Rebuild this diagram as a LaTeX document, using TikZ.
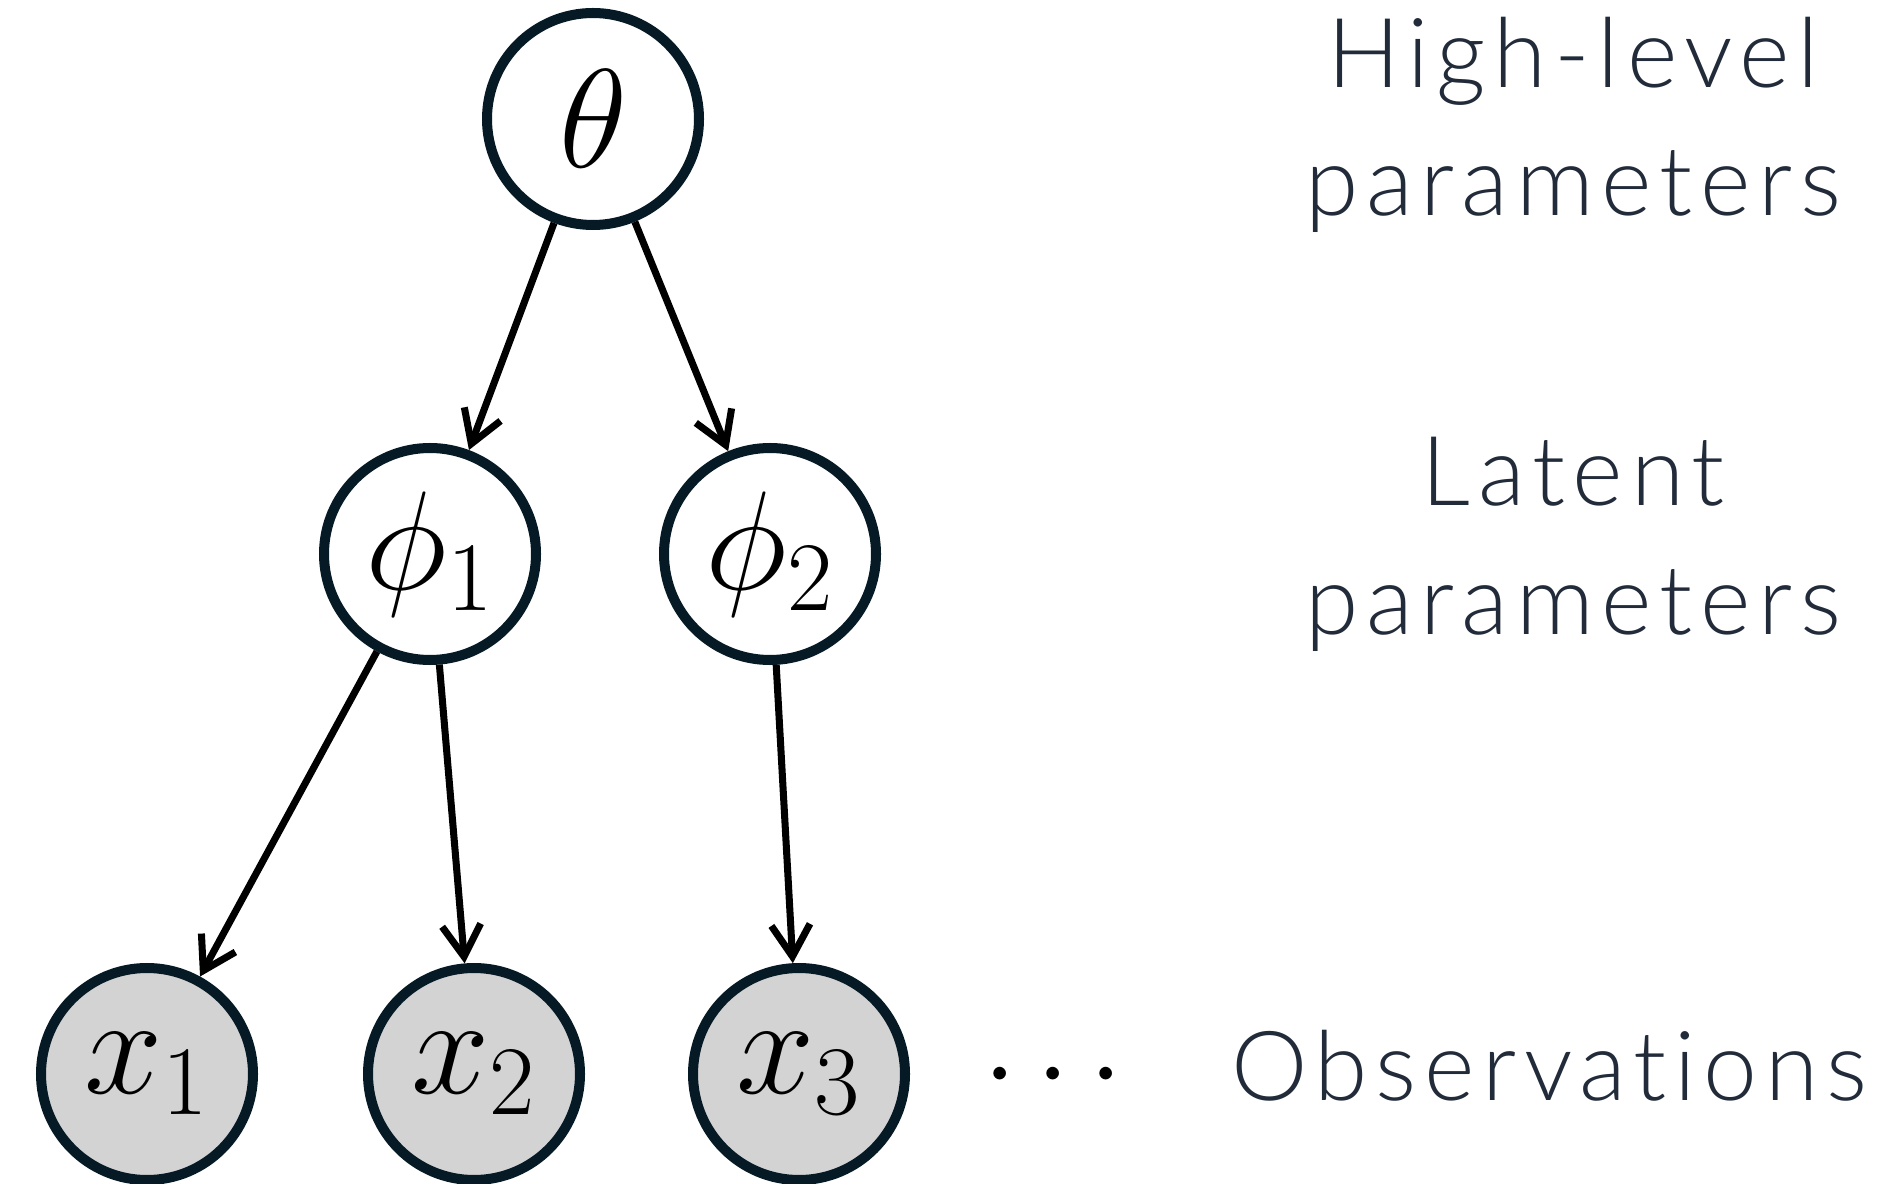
\RequirePackage{fix-cm}
\documentclass[tikz,border=0pt]{standalone}
\usepackage[no-math]{fontspec}
\usepackage{tikz}
\usetikzlibrary{arrows.meta, positioning}
\newfontfamily\labelfont{Lato Light}[LetterSpace=8, Ligatures=NoCommon]
\definecolor{nodeink}{RGB}{6, 26, 38}
\definecolor{labelink}{RGB}{34, 43, 58}
\definecolor{obsgray}{RGB}{211, 211, 211}

\begin{document}
\begin{tikzpicture}[
  var/.style={circle, draw=nodeink, line width=2.85pt, fill=white, minimum size=2.12cm, inner sep=0pt, font=\fontsize{40}{48}\selectfont},
  obs/.style={var, fill=obsgray},
  edge/.style={line width=2pt, -{Straight Barb[length=9pt, width=11pt, line width=2pt]}},
  tag/.style={text=labelink, align=center, font=\labelfont\fontsize{27.5}{36.7}\selectfont}
]
  \useasboundingbox (0,0) rectangle (18.85,-11.84);

  % Hierarchy of parameters
  \node[var] (theta) at (5.93,-1.19) {$\theta$};
  \node[var] (phi1) at (4.30,-5.54) {$\phi_1$};
  \node[var] (phi2) at (7.70,-5.54) {$\phi_2$};

  % Observed variables
  \node[obs] (x1) at (1.47,-10.74) {$x_1$};
  \node[obs] (x2) at (4.74,-10.74) {$x_2$};
  \node[obs] (x3) at (7.99,-10.74) {$x_3$};
  \node[anchor=base, font=\fontsize{34}{40}\selectfont] (more) at (10.53,-11.03) {$\cdots$};

  \draw[edge] (theta) -- (phi1);
  \draw[edge] (theta) -- (phi2);
  \draw[edge] (phi1) -- (x1);
  \draw[edge] (phi1) -- (x2);
  \draw[edge] (phi2) -- (x3);

  % Level names
  \node[tag, anchor=base] (highlabel) at (15.73,-2.16) {High-level\\parameters};
  \node[tag, anchor=base] (latentlabel) at (15.73,-6.34) {Latent\\parameters};
  \node[tag, anchor=base] (obslabel) at (15.49,-11.00) {Observations};
\end{tikzpicture}
\end{document}
